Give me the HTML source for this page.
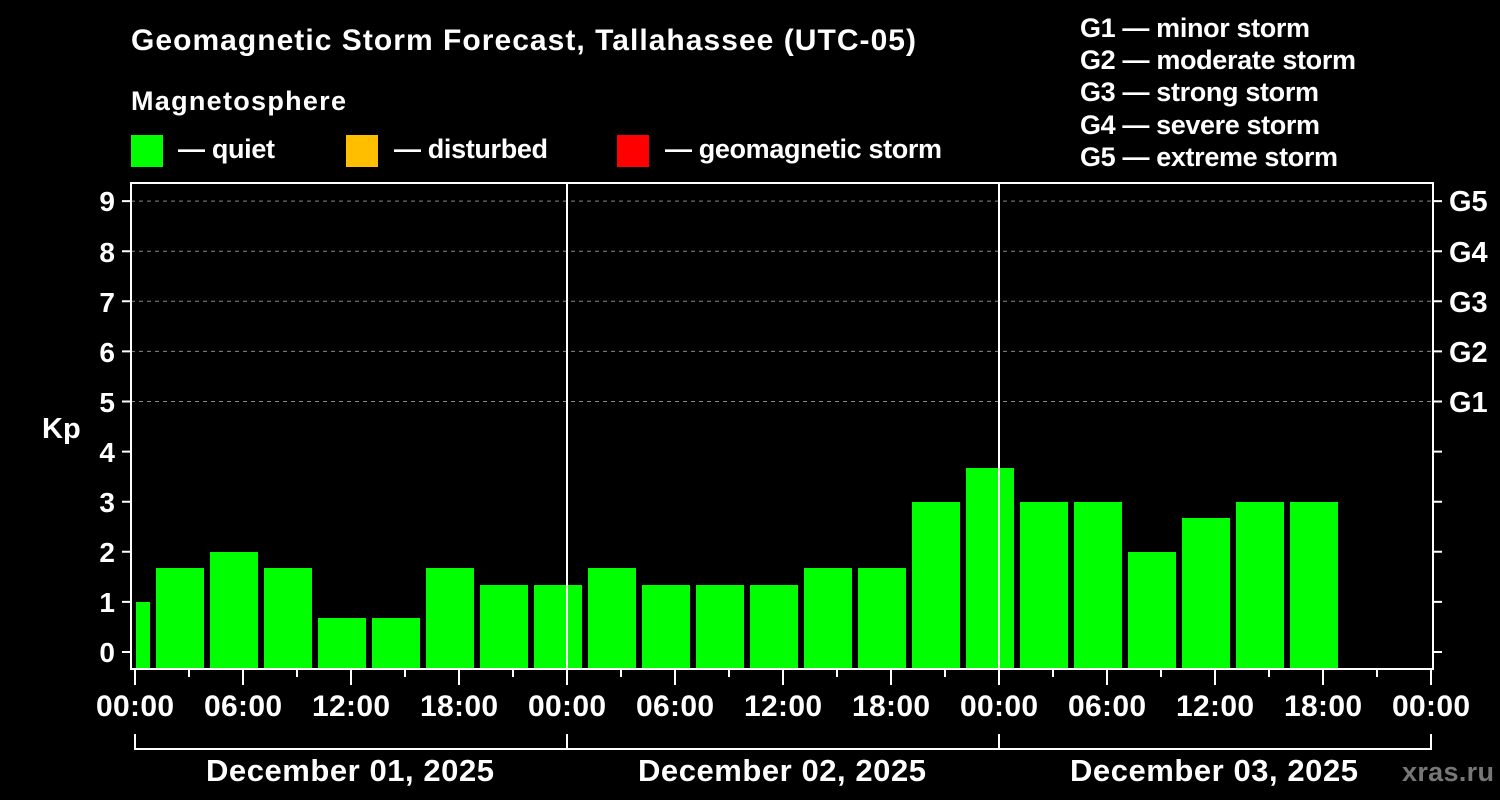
<!DOCTYPE html><html><head><style>body{margin:0;background:#000}svg{display:block}text{font-family:"Liberation Sans",Arial,sans-serif;font-weight:bold;fill:#fff}</style></head><body>
<svg width="1500" height="800" xmlns="http://www.w3.org/2000/svg">
<rect width="1500" height="800" fill="#000"/>
<text x="131" y="50" font-size="30" textLength="785">Geomagnetic Storm Forecast, Tallahassee (UTC-05)</text>
<text x="131" y="110" font-size="27" textLength="215">Magnetosphere</text>
<rect x="131" y="135" width="32" height="32" fill="#00ff00"/><text x="178" y="158" font-size="27" textLength="97">— quiet</text>
<rect x="346" y="135" width="32" height="32" fill="#ffbf00"/><text x="394" y="158" font-size="27" textLength="154">— disturbed</text>
<rect x="617" y="135" width="32" height="32" fill="#ff0000"/><text x="665" y="158" font-size="27" textLength="277">— geomagnetic storm</text>
<g font-size="27"><text x="1080" y="37" textLength="230">G1 — minor storm</text><text x="1080" y="69" textLength="276">G2 — moderate storm</text><text x="1080" y="101" textLength="239">G3 — strong storm</text><text x="1080" y="134" textLength="240">G4 — severe storm</text><text x="1080" y="166" textLength="258">G5 — extreme storm</text></g>
<g stroke="#888" stroke-dasharray="4,4" stroke-width="1">
<line x1="131" x2="1432" y1="201.1" y2="201.1"/><line x1="131" x2="1432" y1="251.2" y2="251.2"/><line x1="131" x2="1432" y1="301.3" y2="301.3"/><line x1="131" x2="1432" y1="351.4" y2="351.4"/><line x1="131" x2="1432" y1="401.5" y2="401.5"/></g>
<g fill="#00ff00">
<rect x="136" y="602" width="14" height="66"/>
<rect x="156" y="568" width="48" height="100"/><rect x="210" y="552" width="48" height="116"/><rect x="264" y="568" width="48" height="100"/><rect x="318" y="618" width="48" height="50"/><rect x="372" y="618" width="48" height="50"/><rect x="426" y="568" width="48" height="100"/><rect x="480" y="585" width="48" height="83"/><rect x="534" y="585" width="48" height="83"/>
<rect x="588" y="568" width="48" height="100"/><rect x="642" y="585" width="48" height="83"/><rect x="696" y="585" width="48" height="83"/><rect x="750" y="585" width="48" height="83"/><rect x="804" y="568" width="48" height="100"/><rect x="858" y="568" width="48" height="100"/><rect x="912" y="502" width="48" height="166"/><rect x="966" y="468" width="48" height="200"/>
<rect x="1020" y="502" width="48" height="166"/><rect x="1074" y="502" width="48" height="166"/><rect x="1128" y="552" width="48" height="116"/><rect x="1182" y="518" width="48" height="150"/><rect x="1236" y="502" width="48" height="166"/><rect x="1290" y="502" width="48" height="166"/></g>
<g stroke="#fff" stroke-width="2" fill="none">
<rect x="131" y="183" width="1302" height="486"/>
<line x1="567" x2="567" y1="183" y2="669"/><line x1="999" x2="999" y1="183" y2="669"/>
<path d="M122 652H131M122 601.9H131M122 551.8H131M122 501.7H131M122 451.6H131M122 401.5H131M122 351.4H131M122 301.3H131M122 251.2H131M122 201.1H131"/>
<path d="M1433 652H1442M1433 601.9H1442M1433 551.8H1442M1433 501.7H1442M1433 451.6H1442M1433 401.5H1442M1433 351.4H1442M1433 301.3H1442M1433 251.2H1442M1433 201.1H1442"/>
<path d="M135 669V685M243 669V685M351 669V685M459 669V685M567 669V685M675 669V685M783 669V685M891 669V685M999 669V685M1107 669V685M1215 669V685M1323 669V685M1431 669V685"/>
<path d="M189 669V677M297 669V677M405 669V677M513 669V677M621 669V677M729 669V677M837 669V677M945 669V677M1053 669V677M1161 669V677M1269 669V677M1377 669V677"/>
<path d="M135 734V749H1431V734M567 734V749M999 734V749"/>
</g>
<g font-size="28" text-anchor="end"><text x="115" y="662">0</text><text x="115" y="612">1</text><text x="115" y="562">2</text><text x="115" y="512">3</text><text x="115" y="462">4</text><text x="115" y="412">5</text><text x="115" y="362">6</text><text x="115" y="312">7</text><text x="115" y="262">8</text><text x="115" y="211">9</text></g>
<text x="42" y="438" font-size="29">Kp</text>
<g font-size="29"><text x="1449" y="412">G1</text><text x="1449" y="362">G2</text><text x="1449" y="312">G3</text><text x="1449" y="262">G4</text><text x="1449" y="211">G5</text></g>
<g font-size="30" text-anchor="middle"><text x="135" y="716" textLength="78">00:00</text><text x="243" y="716" textLength="78">06:00</text><text x="351" y="716" textLength="78">12:00</text><text x="459" y="716" textLength="78">18:00</text><text x="567" y="716" textLength="78">00:00</text><text x="675" y="716" textLength="78">06:00</text><text x="783" y="716" textLength="78">12:00</text><text x="891" y="716" textLength="78">18:00</text><text x="999" y="716" textLength="78">00:00</text><text x="1107" y="716" textLength="78">06:00</text><text x="1215" y="716" textLength="78">12:00</text><text x="1323" y="716" textLength="78">18:00</text><text x="1431" y="716" textLength="78">00:00</text>
<text x="350" y="781" font-size="31" textLength="288">December 01, 2025</text><text x="782" y="781" font-size="31" textLength="288">December 02, 2025</text><text x="1214" y="781" font-size="31" textLength="288">December 03, 2025</text></g>
<text x="1402" y="781" font-size="27" textLength="92" style="fill:#777">xras.ru</text>
</svg></body></html>
